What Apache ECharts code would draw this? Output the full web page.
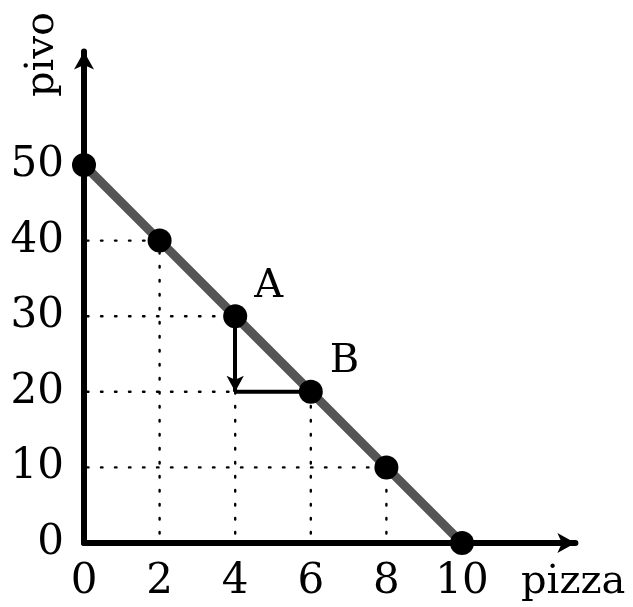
<!DOCTYPE html>
<html>
<head>
<meta charset="utf-8">
<script src="https://cdn.jsdelivr.net/npm/echarts@6/dist/echarts.min.js"></script>
<style>
  html, body { margin: 0; padding: 0; background: #fff; }
  #chart { width: 633px; height: 607px; }
</style>
</head>
<body>
<div id="chart"></div>
<script>
// hranice produkčních možností
const pizza = [0, 2, 4, 6, 8, 10];
const pivo = [50, 40, 30, 20, 10, 0];
const xTicks = [0, 2, 4, 6, 8, 10];
const yTicks = [0, 10, 20, 30, 40, 50];
const pointA = [4, 30];
const pointB = [6, 20];

const font = 'DejaVu Serif';
const chart = echarts.init(document.getElementById('chart'));

const frontier = pizza.map((x, i) => [x, pivo[i]]);
const corner = [pointA[0], pointB[1]];

// tečkované čáry od bodů k osám
const dropSeries = frontier
  .filter(p => p[0] > 0 && p[1] > 0)
  .map(p => ({
    type: 'line',
    data: [[0, p[1]], [p[0], p[1]], [p[0], 0]],
    symbol: 'none',
    silent: true,
    z: 1,
    lineStyle: { color: '#000', width: 2.4, type: [1.5, 12.5], dashOffset: 11, cap: 'round' }
  }));

const option = {
  animation: false,
  grid: { left: 84, top: 51.6, width: 491.4, height: 491.4, containLabel: false },
  xAxis: {
    type: 'value', min: 0, max: 13, interval: 1,
    splitLine: { show: false },
    axisTick: { show: false },
    axisLine: { lineStyle: { color: '#000', width: 6 }, symbol: ['none', 'arrow'], symbolSize: [15, 18] },
    axisLabel: { customValues: xTicks, margin: 18, color: '#000', fontFamily: font, fontSize: 42 }
  },
  yAxis: {
    type: 'value', min: 0, max: 65, interval: 5,
    splitLine: { show: false },
    axisTick: { show: false },
    axisLine: { lineStyle: { color: '#000', width: 6 }, symbol: ['none', 'arrow'], symbolSize: [15, 18] },
    axisLabel: { customValues: yTicks, margin: 20, color: '#000', fontFamily: font, fontSize: 42 }
  },
  graphic: [
    { type: 'text', left: 521, top: 563, style: { text: 'pizza', fontFamily: font, fontSize: 40, fill: '#000' } },
    { type: 'text', x: 23, y: 97, rotation: Math.PI / 2, style: { text: 'pivo', fontFamily: font, fontSize: 40, fill: '#000' } }
  ],
  series: [
    ...dropSeries,
    {
      type: 'line',
      data: [corner, pointB],
      symbol: 'none', silent: true, z: 3,
      lineStyle: { color: '#000', width: 4 },
      markLine: {
        symbol: ['none', 'arrow'], symbolSize: [13, 16], silent: true,
        lineStyle: { color: '#000', width: 4, type: 'solid' },
        label: { show: false },
        data: [[{ coord: pointA }, { coord: corner }]]
      }
    },
    {
      type: 'line',
      data: frontier.map(p => {
        const d = { value: p };
        if (p[0] === pointA[0] && p[1] === pointA[1]) {
          d.label = { show: true, formatter: 'A', position: 'right', offset: [2, -30] };
        }
        if (p[0] === pointB[0] && p[1] === pointB[1]) {
          d.label = { show: true, formatter: 'B', position: 'right', offset: [2, -30] };
        }
        return d;
      }),
      clip: false,
      z: 5,
      lineStyle: { color: '#555', width: 9 },
      symbol: 'circle', symbolSize: 24,
      itemStyle: { color: '#000' },
      label: { show: false, color: '#000', fontFamily: font, fontSize: 40 }
    }
  ]
};

chart.setOption(option);
</script>
</body>
</html>
